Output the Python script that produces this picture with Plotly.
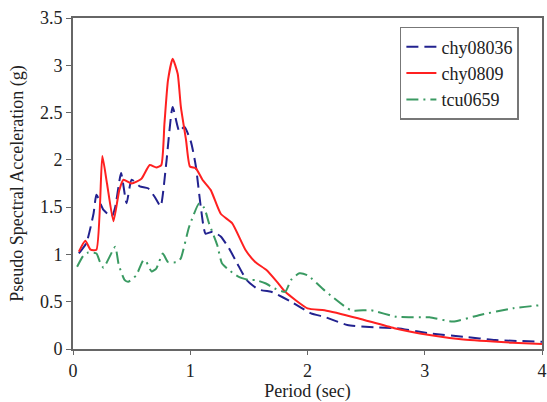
import plotly.graph_objects as go

# chy08036 (blue, dashed)
blue_x = [0.05, 0.114, 0.175, 0.2, 0.26, 0.33, 0.36, 0.41, 0.457, 0.5, 0.57, 0.64, 0.696, 0.747,
          0.795, 0.85, 0.907, 0.95, 1.006, 1.048, 1.09, 1.13, 1.19, 1.26, 1.33, 1.40, 1.48, 1.58,
          1.69, 1.72, 1.86, 2.03, 2.145, 2.34, 2.57, 2.76, 3.04, 3.33, 3.6, 4.0]
blue_y = [1.01, 1.12, 1.43, 1.63, 1.47, 1.40, 1.50, 1.86, 1.54, 1.79, 1.72, 1.70, 1.61, 1.51,
          1.96, 2.56, 2.30, 2.35, 2.19, 1.93, 1.50, 1.22, 1.24, 1.19, 1.065, 0.906, 0.73, 0.63,
          0.605, 0.59, 0.50, 0.377, 0.34, 0.254, 0.23, 0.22, 0.166, 0.13, 0.095, 0.077]

# chy0809 (red, solid)
red_x = [0.05, 0.105, 0.15, 0.2, 0.25, 0.29, 0.345, 0.395, 0.43, 0.5, 0.584, 0.654, 0.71, 0.753,
         0.78, 0.81, 0.85, 0.893, 0.92, 0.964, 0.997, 1.048, 1.104, 1.175, 1.26, 1.357, 1.47,
         1.554, 1.65, 1.74, 1.81, 2.0, 2.145, 2.43, 2.74, 3.04, 3.33, 3.75, 4.0]
red_y = [1.03, 1.145, 1.05, 1.05, 2.04, 1.75, 1.35, 1.68, 1.79, 1.75, 1.80, 1.945, 1.92, 1.945,
         2.385, 2.84, 3.07, 2.91, 2.56, 2.21, 1.93, 1.91, 1.79, 1.68, 1.43, 1.33, 1.05,
         0.92, 0.835, 0.71, 0.605, 0.43, 0.41, 0.325, 0.22, 0.148, 0.10, 0.067, 0.053]

# tcu0659 (green, dash-dot)
green_x = [0.035, 0.09, 0.13, 0.2, 0.23, 0.26, 0.36, 0.39, 0.44, 0.47, 0.54, 0.6, 0.626, 0.67,
           0.71, 0.766, 0.81, 0.89, 0.92, 0.99, 1.076, 1.12, 1.16, 1.23, 1.27, 1.33, 1.41, 1.50,
           1.554, 1.64, 1.72, 1.81, 1.86, 1.93, 2.0, 2.145, 2.37, 2.54, 2.76, 3.04, 3.24, 3.47,
           3.75, 4.0]
green_y = [0.87, 0.99, 1.02, 1.01, 0.92, 0.86, 1.08, 0.89, 0.73, 0.71, 0.78, 0.94, 0.92, 0.82,
           0.85, 1.01, 0.92, 0.92, 0.96, 1.29, 1.54, 1.49, 1.33, 1.10, 0.906, 0.835, 0.765, 0.73,
           0.73, 0.695, 0.64, 0.605, 0.73, 0.80, 0.78, 0.62, 0.41, 0.41, 0.34, 0.335, 0.29, 0.36,
           0.43, 0.465]

x_ticks = [0, 1, 2, 3, 4]
y_ticks = [0, 0.5, 1, 1.5, 2, 2.5, 3, 3.5]
y_tick_text = ["0", "0.5", "1", "1.5", "2", "2.5", "3", "3.5"]

FONT = "Times New Roman, Times, serif"

fig = go.Figure()
fig.add_trace(go.Scatter(x=blue_x, y=blue_y, mode="lines", name="chy08036",
                         line=dict(color="#22228f", width=2, dash="12px,6px",
                                   shape="spline", smoothing=0.5)))
fig.add_trace(go.Scatter(x=red_x, y=red_y, mode="lines", name="chy0809",
                         line=dict(color="#ff2020", width=2, shape="spline", smoothing=0.5)))
fig.add_trace(go.Scatter(x=green_x, y=green_y, mode="lines", name="tcu0659",
                         line=dict(color="#3a9a62", width=2, dash="12px,5px,2px,5px",
                                   shape="spline", smoothing=0.5)))

fig.update_layout(
    width=547, height=402,
    margin=dict(l=72.5, r=0.5, t=18, b=53),
    paper_bgcolor="white", plot_bgcolor="white",
    font=dict(family=FONT, size=18, color="#222"),
    showlegend=True,
    legend=dict(x=0.697, y=0.973, xanchor="left", yanchor="top",
                bgcolor="white", bordercolor="#777", borderwidth=1.5,
                font=dict(family=FONT, size=18, color="#222"),
                itemwidth=30, tracegroupgap=0),
    xaxis=dict(range=[0, 4], tickvals=x_ticks, ticktext=[str(v) for v in x_ticks],
               showgrid=False, zeroline=False, showline=True, linecolor="#666",
               linewidth=2, mirror=True, ticks="outside", ticklen=4, tickcolor="#666",
               ticklabeloverflow="allow",
               title=dict(text="Period (sec)", standoff=6,
                          font=dict(family=FONT, size=18, color="#222"))),
    yaxis=dict(range=[0, 3.5], tickvals=y_ticks, ticktext=y_tick_text,
               showgrid=False, zeroline=False, showline=True, linecolor="#666",
               linewidth=2, mirror=True, ticks="outside", ticklen=5, tickcolor="#666",
               title=dict(text="Pseudo Spectral Acceleration (g)", standoff=12,
                          font=dict(family=FONT, size=18, color="#222"))),
)

fig.write_html("out.html")
